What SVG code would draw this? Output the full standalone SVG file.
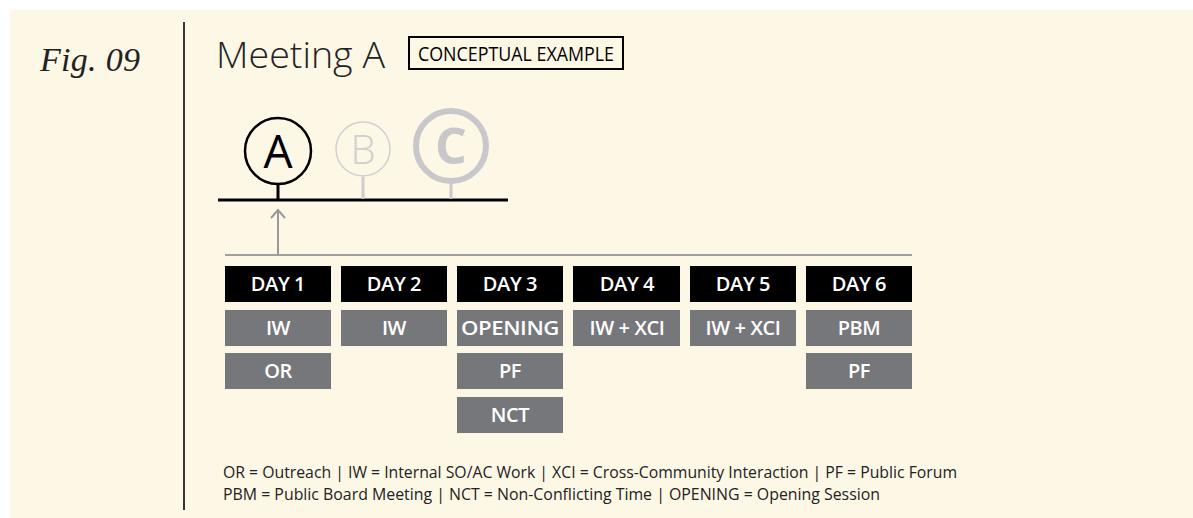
<svg xmlns="http://www.w3.org/2000/svg" width="1193" height="518" viewBox="0 0 1193 518">
<style>
.day{fill:#000}
.act{fill:#76777b}
.lbl{font-family:"Open Sans","Liberation Sans",sans-serif;font-weight:600;font-size:20px;fill:#fff;text-anchor:middle;letter-spacing:-0.4px}
.leg{font-family:"Open Sans","Liberation Sans",sans-serif;font-size:16px;fill:#222}
</style>
<rect x="0" y="0" width="1193" height="518" fill="#fff"/>
<rect x="10" y="10" width="1183" height="508" fill="#fdf7e6"/>
<g id="fig"><text x="40" y="71" font-family="Liberation Serif,serif" font-style="italic" font-size="34" fill="#222" textLength="100">Fig. 09</text></g>
<line x1="184" y1="22" x2="184" y2="510" stroke="#333" stroke-width="2"/>
<g id="title">
<text x="216" y="68" font-family="'Open Sans','Liberation Sans',sans-serif" font-weight="300" font-size="37" fill="#222" textLength="169" lengthAdjust="spacingAndGlyphs">Meeting A</text>
<rect x="409" y="37" width="214" height="32" fill="none" stroke="#000" stroke-width="2"/>
<text x="418" y="61" font-family="'Open Sans','Liberation Sans',sans-serif" font-size="20" fill="#000" textLength="196" lengthAdjust="spacingAndGlyphs">CONCEPTUAL EXAMPLE</text>
</g>
<g id="timeline">
<line x1="218" y1="200" x2="508" y2="200" stroke="#000" stroke-width="3"/>
</g>
<g id="nodeA">
<line x1="278" y1="183" x2="278" y2="199" stroke="#000" stroke-width="3"/>
<circle cx="278" cy="151" r="33" fill="none" stroke="#000" stroke-width="2.5"/>
<text x="278" y="168" font-family="'Open Sans','Liberation Sans',sans-serif" font-size="46" fill="#000" text-anchor="middle">A</text>
</g>
<g id="nodeB">
<line x1="363" y1="177" x2="363" y2="199" stroke="#ccc" stroke-width="3"/>
<circle cx="363" cy="149" r="27" fill="none" stroke="#d0d0d0" stroke-width="1.5"/>
<text x="363" y="164" font-family="'Open Sans','Liberation Sans',sans-serif" font-weight="300" font-size="40" fill="#d0d0d0" text-anchor="middle">B</text>
</g>
<g id="nodeC">
<line x1="451" y1="182" x2="451" y2="199" stroke="#c8c8c8" stroke-width="3"/>
<circle cx="451" cy="146" r="35" fill="none" stroke="#c8c8cb" stroke-width="6"/>
<text x="451" y="164" font-family="'Open Sans','Liberation Sans',sans-serif" font-weight="700" font-size="50" fill="#c8c8cb" text-anchor="middle">C</text>
</g>
<g id="connectors">
<line x1="225" y1="255" x2="912" y2="255" stroke="#a0a0a0" stroke-width="2"/>
<line x1="278" y1="255" x2="278" y2="210" stroke="#999" stroke-width="2"/>
<polyline points="271,218 278,210 285,218" fill="none" stroke="#999" stroke-width="2"/>
</g>
<g id="day1"><rect class="day" x="225" y="266" width="106" height="36"/><text class="lbl" x="278" y="291">DAY 1</text>
<rect class="act" x="225" y="310" width="106" height="36"/><text class="lbl" x="278" y="335">IW</text>
<rect class="act" x="225" y="353" width="106" height="36"/><text class="lbl" x="278" y="378">OR</text></g>
<g id="day2"><rect class="day" x="341" y="266" width="106" height="36"/><text class="lbl" x="394" y="291">DAY 2</text>
<rect class="act" x="341" y="310" width="106" height="36"/><text class="lbl" x="394" y="335">IW</text></g>
<g id="day3"><rect class="day" x="457" y="266" width="106" height="36"/><text class="lbl" x="510" y="291">DAY 3</text>
<rect class="act" x="457" y="310" width="106" height="36"/><text class="lbl" x="510" y="335" textLength="98" lengthAdjust="spacingAndGlyphs">OPENING</text>
<rect class="act" x="457" y="353" width="106" height="36"/><text class="lbl" x="510" y="378">PF</text>
<rect class="act" x="457" y="397" width="106" height="36"/><text class="lbl" x="510" y="422">NCT</text></g>
<g id="day4"><rect class="day" x="573" y="266" width="107" height="36"/><text class="lbl" x="627" y="291">DAY 4</text>
<rect class="act" x="573" y="310" width="107" height="36"/><text class="lbl" x="627" y="335">IW + XCI</text></g>
<g id="day5"><rect class="day" x="690" y="266" width="106" height="36"/><text class="lbl" x="743" y="291">DAY 5</text>
<rect class="act" x="690" y="310" width="106" height="36"/><text class="lbl" x="743" y="335">IW + XCI</text></g>
<g id="day6"><rect class="day" x="806" y="266" width="106" height="36"/><text class="lbl" x="859" y="291">DAY 6</text>
<rect class="act" x="806" y="310" width="106" height="36"/><text class="lbl" x="859" y="335">PBM</text>
<rect class="act" x="806" y="353" width="106" height="36"/><text class="lbl" x="859" y="378">PF</text></g>
<g id="legend">
<text class="leg" x="223" y="478" textLength="734" lengthAdjust="spacingAndGlyphs">OR = Outreach  |  IW = Internal SO/AC Work  |  XCI = Cross-Community Interaction  |  PF = Public Forum</text>
<text class="leg" x="223" y="500" textLength="657" lengthAdjust="spacingAndGlyphs">PBM = Public Board Meeting  |  NCT = Non-Conflicting Time  |  OPENING = Opening Session</text>
</g>
</svg>
